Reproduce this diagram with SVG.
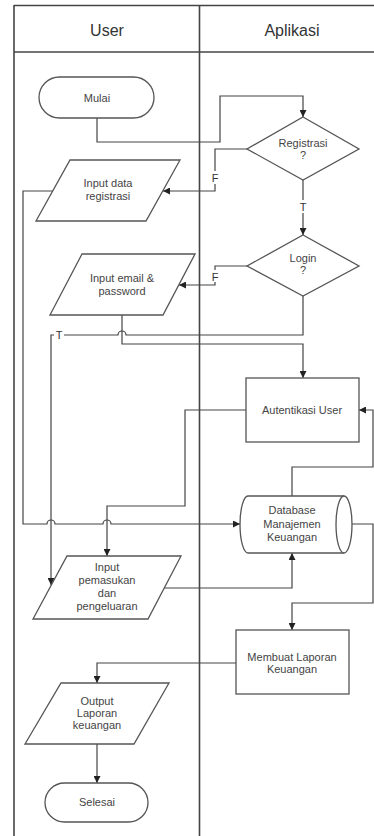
<svg xmlns="http://www.w3.org/2000/svg" width="374" height="836" viewBox="0 0 374 836">
<defs>
<marker id="arr" viewBox="0 0 10 10" refX="10" refY="5" markerWidth="7" markerHeight="7" markerUnits="userSpaceOnUse" orient="auto">
<path d="M0,0 L10,5 L0,10 Z" fill="#222"/>
</marker>
<style>
.frame{stroke:#444;stroke-width:1.6;fill:none}
.shape{stroke:#555;stroke-width:1.3;fill:#fff}
.conn{stroke:#444;stroke-width:1.2;fill:none}
.head{font-family:"Liberation Sans",Arial,sans-serif;font-size:16px;fill:#333;text-anchor:middle}
.t{font-family:"Liberation Sans",Arial,sans-serif;font-size:11px;fill:#444;text-anchor:middle}
.lbl{font-family:"Liberation Sans",Arial,sans-serif;font-size:11px;fill:#333;text-anchor:middle}
</style>
</defs>
<rect width="374" height="836" fill="#fff"/>
<g id="frame">
<line class="frame" x1="14" y1="5.5" x2="374" y2="5.5"/>
<line class="frame" x1="14" y1="52" x2="374" y2="52"/>
<line class="frame" x1="14" y1="5" x2="14" y2="836"/>
<line class="frame" x1="199.5" y1="5" x2="199.5" y2="836"/>
<text class="head" x="107" y="36">User</text>
<text class="head" x="292" y="36">Aplikasi</text>
</g>
<g id="connectors">
<path class="conn" d="M97,118 V142 H220 V96 H303 V117" marker-end="url(#arr)"/>
<path class="conn" d="M247,149 H215 V191 H163" marker-end="url(#arr)"/>
<path class="conn" d="M303,180 V235" marker-end="url(#arr)"/>
<path class="conn" d="M247,266 H215 V285 H179" marker-end="url(#arr)"/>
<path class="conn" d="M303,296 V335 H126 A4,4 0 0 0 118,335 H51 V585" marker-end="url(#arr)"/>
<path class="conn" d="M122,315 V344 H303 V378" marker-end="url(#arr)"/>
<path class="conn" d="M53,191 H23 V524 H47 A4,4 0 0 1 55,524 H103 A4,4 0 0 1 111,524 H240" marker-end="url(#arr)"/>
<path class="conn" d="M246,410 H185 V506 H107 V556" marker-end="url(#arr)"/>
<path class="conn" d="M164,588 H292 V553" marker-end="url(#arr)"/>
<path class="conn" d="M292,496 V467 H373 V410 H359" marker-end="url(#arr)"/>
<path class="conn" d="M352,524 H373 V603 H292 V630" marker-end="url(#arr)"/>
<path class="conn" d="M236,663 H97 V683" marker-end="url(#arr)"/>
<path class="conn" d="M97,744 V783" marker-end="url(#arr)"/>
<rect x="210" y="171" width="10" height="13" fill="#fff"/>
<text class="lbl" x="215" y="182">F</text>
<rect x="298" y="200" width="10" height="13" fill="#fff"/>
<text class="lbl" x="303" y="211">T</text>
<rect x="210" y="270" width="10" height="12" fill="#fff"/>
<text class="lbl" x="215" y="281">F</text>
<rect x="54" y="329" width="10" height="12" fill="#fff"/>
<text class="lbl" x="59" y="339">T</text>
</g>
<g id="mulai">
<rect class="shape" x="39" y="77" width="115" height="41" rx="20.5"/>
<text class="t" x="97" y="102">Mulai</text>
</g>
<g id="registrasi">
<polygon class="shape" points="303,117 359,149 303,180 247,149"/>
<text class="t" x="303" y="147">Registrasi</text>
<text class="t" x="303" y="159">?</text>
</g>
<g id="input-registrasi">
<polygon class="shape" points="70,160 180,160 146,221 36,221"/>
<text class="t" x="108" y="187">Input data</text>
<text class="t" x="108" y="200">registrasi</text>
</g>
<g id="login">
<polygon class="shape" points="303,235 359,266 303,296 247,266"/>
<text class="t" x="303" y="262">Login</text>
<text class="t" x="303" y="274">?</text>
</g>
<g id="input-login">
<polygon class="shape" points="82,254 195,254 163,315 50,315"/>
<text class="t" x="122" y="282">Input email &amp;</text>
<text class="t" x="122" y="295">password</text>
</g>
<g id="autentikasi">
<rect class="shape" x="246" y="378" width="113" height="64"/>
<text class="t" x="302" y="414">Autentikasi User</text>
</g>
<g id="database">
<path class="shape" d="M248,496 H344 A8,28.5 0 0 1 344,553 H248 A8,28.5 0 0 1 248,496 Z"/>
<path class="shape" fill="none" d="M344,496 A8,28.5 0 0 0 344,553"/>
<text class="t" x="292" y="514">Database</text>
<text class="t" x="292" y="528">Manajemen</text>
<text class="t" x="292" y="541">Keuangan</text>
</g>
<g id="input-transaksi">
<polygon class="shape" points="67,556 181,556 148,619 33,619"/>
<text class="t" x="107" y="571">Input</text>
<text class="t" x="107" y="584">pemasukan</text>
<text class="t" x="107" y="597">dan</text>
<text class="t" x="107" y="610">pengeluaran</text>
</g>
<g id="membuat-laporan">
<rect class="shape" x="236" y="630" width="113" height="64"/>
<text class="t" x="292" y="661">Membuat Laporan</text>
<text class="t" x="292" y="673">Keuangan</text>
</g>
<g id="output">
<polygon class="shape" points="61,683 169,683 134,744 25,744"/>
<text class="t" x="97" y="705">Output</text>
<text class="t" x="97" y="717">Laporan</text>
<text class="t" x="97" y="729">keuangan</text>
</g>
<g id="selesai">
<rect class="shape" x="45" y="783" width="103" height="39" rx="19.5"/>
<text class="t" x="97" y="806">Selesai</text>
</g>
</svg>
